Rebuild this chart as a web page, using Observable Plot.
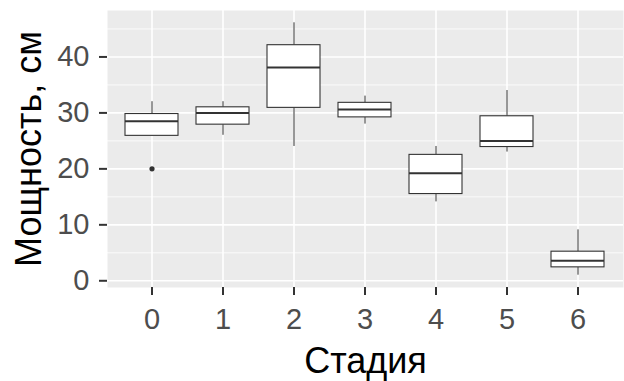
<!DOCTYPE html>
<html>
<head>
<meta charset="utf-8">
<script src="https://cdn.jsdelivr.net/npm/d3@7"></script>
<script src="https://cdn.jsdelivr.net/npm/@observablehq/plot@0.6"></script>
<style>
  html, body { margin: 0; padding: 0; background: #fff; }
  #chart svg { display: block; }
</style>
</head>
<body>
<div id="chart"></div>
<script>
const stages      = ["0", "1", "2", "3", "4", "5", "6"];
const whiskerLow  = [26.0, 26.0, 24.0, 28.0, 14.1, 23.0, 1.0];
const q1          = [25.9, 27.9, 30.9, 29.2, 15.5, 23.9, 2.4];
const median      = [28.5, 30.0, 38.1, 30.6, 19.2, 25.0, 3.6];
const q3          = [29.8, 31.0, 42.1, 31.8, 22.5, 29.4, 5.2];
const whiskerHigh = [32.0, 32.0, 46.1, 33.0, 24.0, 34.0, 9.1];
const outlierStage = ["0"];
const outlierValue = [20.0];
const yTicks  = [0, 10, 20, 30, 40];
const yMinor  = [5, 15, 25, 35, 45];

const boxes = stages.map((s, i) => ({
  stage: s, lo: whiskerLow[i], q1: q1[i], med: median[i], q3: q3[i], hi: whiskerHigh[i]
}));
const outliers = outlierStage.map((s, i) => ({stage: s, value: outlierValue[i]}));

const ink = "#333333";

const chart = Plot.plot({
  width: 624,
  height: 381,
  marginLeft: 107,
  marginRight: 1,
  marginTop: 10,
  marginBottom: 94,
  style: {fontFamily: "Liberation Sans, Arial, sans-serif", background: "white"},
  x: {type: "band", domain: stages, paddingInner: 0.25, paddingOuter: 0.225, align: 0.5},
  y: {domain: [-1.2, 48.3]},
  marks: [
    Plot.frame({fill: "#EBEBEB", stroke: null}),
    Plot.ruleY(yMinor, {stroke: "white", strokeWidth: 0.8}),
    Plot.ruleY(yTicks, {stroke: "white", strokeWidth: 1.6}),
    Plot.ruleX(stages, {x: d => d, stroke: "white", strokeWidth: 1.6}),
    Plot.ruleX(boxes, {x: "stage", y1: "q3", y2: "hi", stroke: ink, strokeWidth: 1}),
    Plot.ruleX(boxes, {x: "stage", y1: "lo", y2: "q1", stroke: ink, strokeWidth: 1}),
    Plot.barY(boxes, {x: "stage", y1: "q1", y2: "q3", fill: "white", stroke: ink, strokeWidth: 1.1}),
    Plot.tickY(boxes, {x: "stage", y: "med", stroke: ink, strokeWidth: 2}),
    Plot.dot(outliers, {x: "stage", y: "value", r: 2.6, fill: ink, stroke: null}),
    Plot.axisY({ticks: yTicks, tickSize: 8, tickFormat: () => "", color: ink, strokeWidth: 2, label: null}),
    Plot.axisY({ticks: yTicks, tickSize: 0, tickPadding: 18, fontSize: 29, color: "#4D4D4D", label: null}),
    Plot.axisX({tickSize: 8, tickFormat: () => "", color: ink, strokeWidth: 2, label: null}),
    Plot.axisX({tickSize: 0, tickPadding: 21, fontSize: 29, color: "#4D4D4D", label: null}),
    Plot.text(["Стадия"], {frameAnchor: "bottom", lineAnchor: "bottom", dy: 85, fontSize: 36, fill: "black"}),
    Plot.text(["Мощность, см"], {frameAnchor: "left", textAnchor: "middle", lineAnchor: "bottom", rotate: -90, dx: -67, fontSize: 36, fill: "black"})
  ]
});
document.getElementById("chart").appendChild(chart);
</script>
</body>
</html>
